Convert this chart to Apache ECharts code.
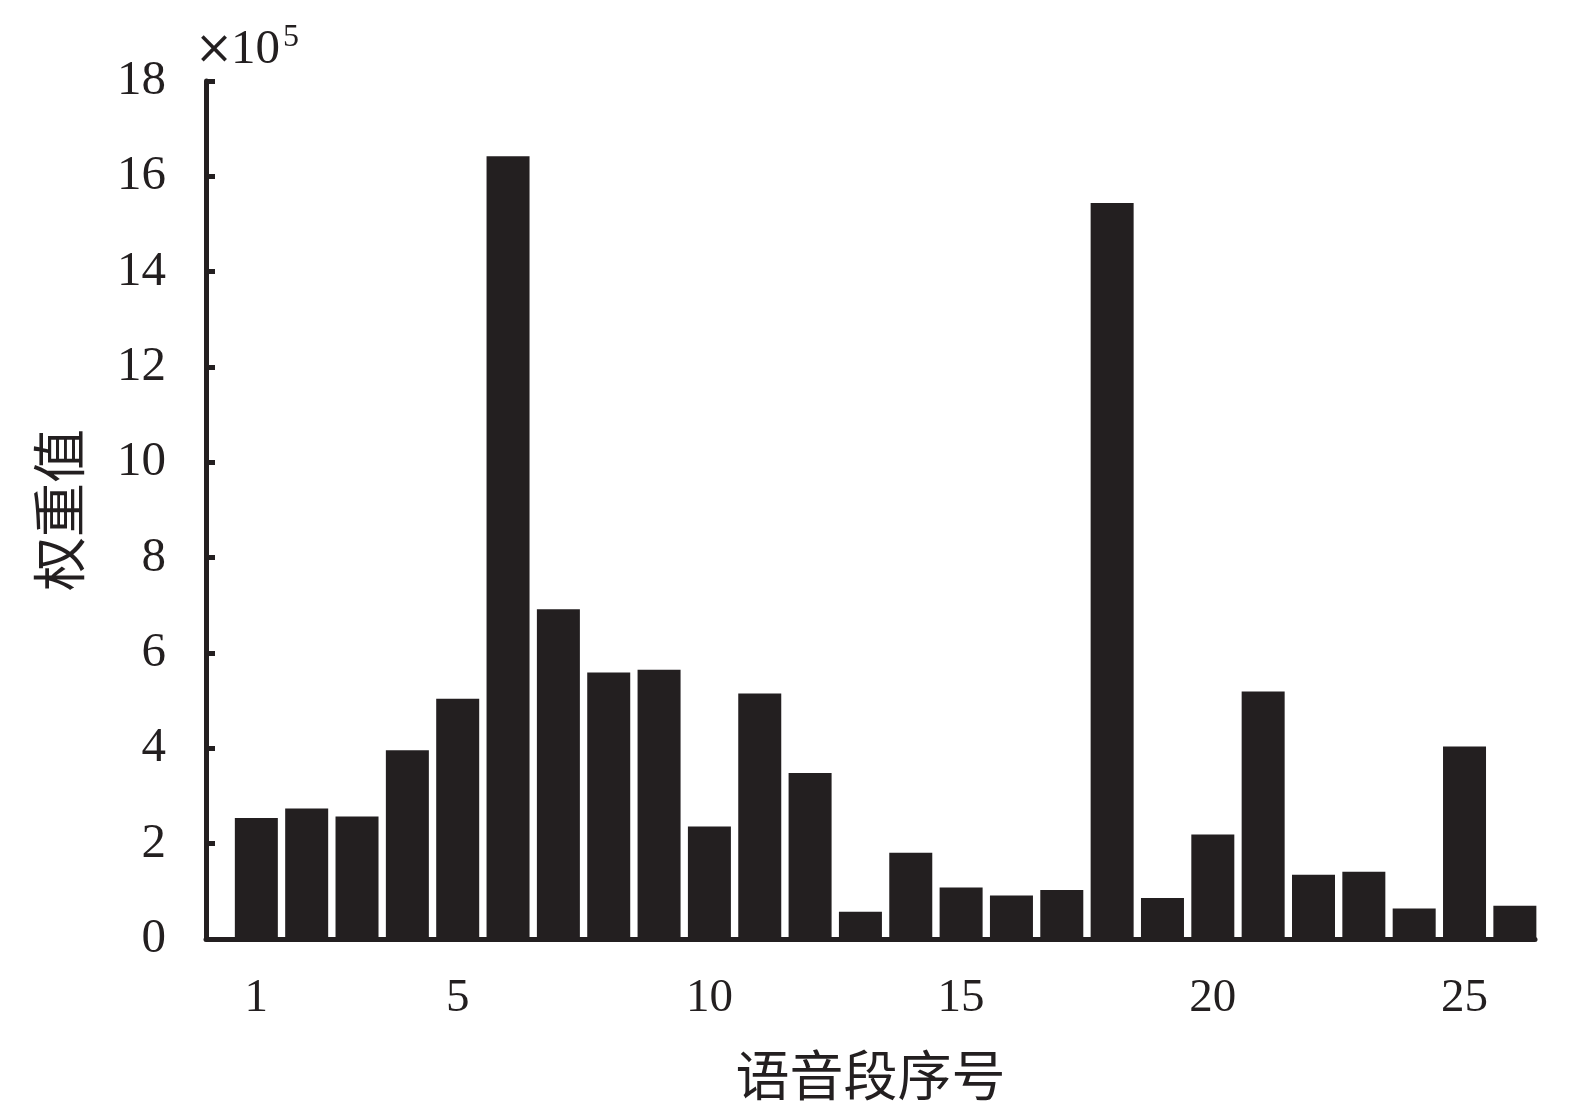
<!DOCTYPE html>
<html>
<head>
<meta charset="utf-8">
<script src="https://cdn.jsdelivr.net/npm/echarts@6/dist/echarts.min.js"></script>
<style>html,body{margin:0;padding:0;background:#fff}#c{width:1575px;height:1116px}</style>
</head>
<body>
<div id="c"></div>
<script>
// segment index (1..26)
const segments = [1,2,3,4,5,6,7,8,9,10,11,12,13,14,15,16,17,18,19,20,21,22,23,24,25,26];
// weight values, in units of 1e5
const weights = [2.54, 2.74, 2.57, 3.96, 5.04, 16.42, 6.92, 5.59, 5.65, 2.36, 5.15, 3.48, 0.57,
                 1.81, 1.08, 0.91, 1.03, 15.44, 0.86, 2.19, 5.19, 1.35, 1.41, 0.64, 4.04, 0.70];
const xTickLabels = [1, 5, 10, 15, 20, 25];
const yMin = 0, yMax = 18, yStep = 2;

const ink = '#231f20';
const serif = '"Liberation Serif", "DejaVu Serif", serif';
const cjk = '"Noto Sans CJK SC", sans-serif';

const chart = echarts.init(document.getElementById('c'));
chart.setOption({
  animation: false,
  backgroundColor: '#fff',
  grid: { left: 206, right: 40, top: 81, bottom: 177, containLabel: false, outerBoundsMode: 'none' },
  xAxis: {
    type: 'value', min: 0, max: 26.4,
    axisLine: { show: true, lineStyle: { color: ink, width: 5 } },
    axisTick: { show: false },
    splitLine: { show: false },
    axisLabel: { customValues: xTickLabels, color: ink, fontFamily: serif, fontSize: 47, margin: 36 },
    name: '语音段序号', nameLocation: 'middle', nameGap: 109,
    nameTextStyle: { color: ink, fontFamily: cjk, fontSize: 54 }
  },
  yAxis: {
    type: 'value', min: yMin, max: yMax, interval: yStep,
    axisLine: { show: true, lineStyle: { color: ink, width: 5 } },
    axisTick: { show: true, inside: true, length: 9, lineStyle: { color: ink, width: 5 } },
    splitLine: { show: false },
    axisLabel: { color: ink, fontFamily: serif, fontSize: 49, margin: 40 },
    name: '权重值', nameLocation: 'middle', nameGap: 120, nameRotate: 90,
    nameTextStyle: { color: ink, fontFamily: cjk, fontSize: 54 }
  },
  graphic: [
    { type: 'text', style: { x: 214, y: 51, text: '×', fontFamily: '"DejaVu Serif", serif', fontSize: 46,
      fill: ink, align: 'center', verticalAlign: 'middle' } },
    { type: 'text', style: { x: 231, y: 75, text: '10', fontFamily: serif, fontSize: 49,
      fill: ink, align: 'left', verticalAlign: 'bottom' } },
    { type: 'text', style: { x: 283, y: 38, text: '5', fontFamily: serif, fontSize: 32,
      fill: ink, align: 'left', verticalAlign: 'middle' } }
  ],
  series: [{
    type: 'bar',
    barWidth: 43,
    data: segments.map((s, i) => [s, weights[i]]),
    itemStyle: { color: ink }
  }]
});
</script>
</body>
</html>
